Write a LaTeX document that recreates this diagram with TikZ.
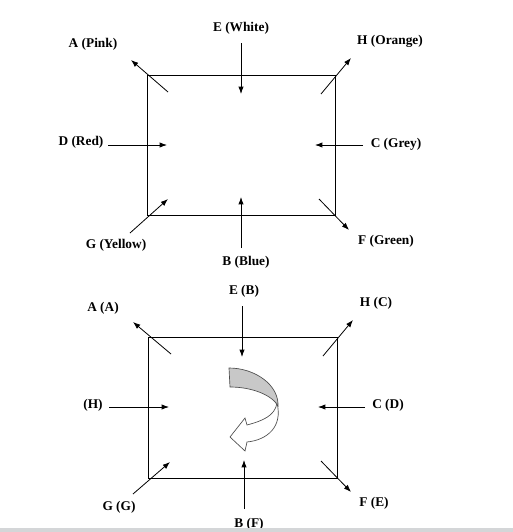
\documentclass[tikz,border=0pt]{standalone}
\usepackage{fontspec}
\setmainfont{Liberation Serif}
\usetikzlibrary{arrows.meta}
\definecolor{bargray}{HTML}{D4D6D8}
\definecolor{bandgray}{HTML}{C8C8C8}
\tikzset{
    lbl/.style={font=\fontsize{10}{12}\selectfont\bfseries, inner sep=0pt},
    arr/.style={line width=0.6pt, -{Latex[length=5.5pt,width=4pt]}},
    box/.style={line width=0.65pt}
}

\begin{document}
\begin{tikzpicture}[x=0.75pt, y=-0.75pt]
                        \useasboundingbox (0,0) rectangle (513,532);

                        % top view, colours
                        \draw [box] (147,75) rectangle (335,215);

                        \node [lbl] (tE) at (241,28) {E (White)};
                        \node [lbl] (tA) at (93,44) {A (Pink)};
                        \node [lbl] (tH) at (390,41) {H (Orange)};
                        \node [lbl] (tD) at (81,142) {D (Red)};
                        \node [lbl] (tC) at (396,144) {C (Grey)};
                        \node [lbl] (tG) at (116,245) {G (Yellow)};
                        \node [lbl] (tB) at (246,262) {B (Blue)};
                        \node [lbl] (tF) at (386,241) {F (Green)};

                        \coordinate (tE1) at (241,43);  \coordinate (tE2) at (241,94);
                        \coordinate (tA1) at (168,92);  \coordinate (tA2) at (131,60);
                        \coordinate (tH1) at (321,94);  \coordinate (tH2) at (351,58);
                        \coordinate (tD1) at (108,145); \coordinate (tD2) at (167,145);
                        \coordinate (tC1) at (363,145); \coordinate (tC2) at (315,145);
                        \coordinate (tG1) at (130,233); \coordinate (tG2) at (168,199);
                        \coordinate (tB1) at (241,248); \coordinate (tB2) at (241,197);
                        \coordinate (tF1) at (319,199); \coordinate (tF2) at (349,230);

                        \draw [arr] (tE1) -- (tE2);
                        \draw [arr] (tA1) -- (tA2);
                        \draw [arr] (tH1) -- (tH2);
                        \draw [arr] (tD1) -- (tD2);
                        \draw [arr] (tC1) -- (tC2);
                        \draw [arr] (tG1) -- (tG2);
                        \draw [arr] (tB1) -- (tB2);
                        \draw [arr] (tF1) -- (tF2);

                        % bottom view, after the turn
                        \draw [box] (148,337) rectangle (337,478);

                        \node [lbl] (bE) at (244,291) {E (B)};
                        \node [lbl] (bA) at (103,308) {A (A)};
                        \node [lbl] (bH) at (376,303) {H (C)};
                        \node [lbl] (bD) at (93,405) {(H)};
                        \node [lbl] (bC) at (388,405) {C (D)};
                        \node [lbl] (bG) at (119,507) {G (G)};
                        \node [lbl] (bB) at (249,524) {B (F)};
                        \node [lbl] (bF) at (374,503) {F (E)};

                        \coordinate (bE1) at (242,306); \coordinate (bE2) at (242,357);
                        \coordinate (bA1) at (171,354); \coordinate (bA2) at (133,322);
                        \coordinate (bH1) at (323,356); \coordinate (bH2) at (353,320);
                        \coordinate (bD1) at (109,407); \coordinate (bD2) at (169,407);
                        \coordinate (bC1) at (365,407); \coordinate (bC2) at (318,407);
                        \coordinate (bG1) at (133,494); \coordinate (bG2) at (170,462);
                        \coordinate (bB1) at (244,509); \coordinate (bB2) at (244,460);
                        \coordinate (bF1) at (321,461); \coordinate (bF2) at (351,492);

                        \draw [arr] (bE1) -- (bE2);
                        \draw [arr] (bA1) -- (bA2);
                        \draw [arr] (bH1) -- (bH2);
                        \draw [arr] (bD1) -- (bD2);
                        \draw [arr] (bC1) -- (bC2);
                        \draw [arr] (bG1) -- (bG2);
                        \draw [arr] (bB1) -- (bB2);
                        \draw [arr] (bF1) -- (bF2);

                        % turning arrow
                        \draw [black!70, line width=0.5pt, fill=bandgray]
                            (229,368) -- (230,387) .. controls (252,387) and (272,395) .. (278,406)
                            .. controls (279,385) and (255,368) .. (229,368) -- cycle;
                        \draw [black!70, line width=0.5pt, fill=white]
                            (277,403) .. controls (275,416) and (262,421) .. (247,425)
                            -- (245,418) -- (230,437) -- (245,451) -- (247,442)
                            .. controls (267,440) and (283,427) .. (277,403) -- cycle;

                        \fill [bargray] (0,528) rectangle (513,532);
                    \end{tikzpicture}
\end{document}
